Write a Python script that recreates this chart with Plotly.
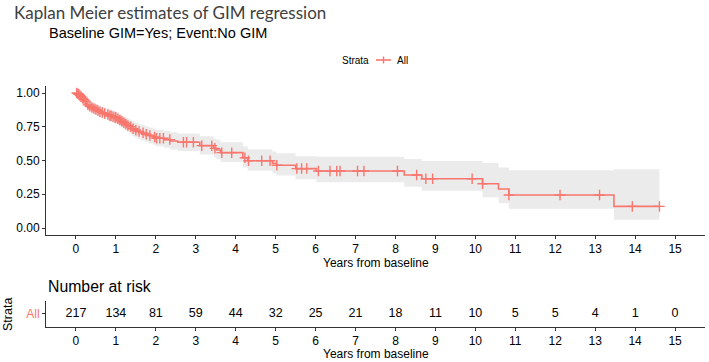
import numpy as np
import plotly.graph_objects as go

# ---------------- data ----------------
times = [0.00, 0.03, 0.06, 0.09, 0.12, 0.15, 0.18, 0.21, 0.25, 0.28, 0.32, 0.37, 0.42, 0.47,
         0.52, 0.58, 0.64, 0.70, 0.77, 0.83, 0.90, 0.96, 1.02, 1.07, 1.12, 1.17, 1.22, 1.28,
         1.34, 1.40, 1.47, 1.55, 1.63, 1.72, 1.82, 1.93, 2.00, 2.20, 2.36, 2.55, 3.10, 3.45,
         3.52, 3.62, 4.18, 4.30, 4.92, 5.02, 5.50, 6.02, 8.22, 8.66, 10.18, 10.58, 10.84, 13.47]
surv = [1.000, 0.995, 0.990, 0.982, 0.972, 0.962, 0.952, 0.940, 0.925, 0.912, 0.902, 0.893,
        0.885, 0.877, 0.870, 0.862, 0.855, 0.848, 0.840, 0.832, 0.825, 0.818, 0.810, 0.800,
        0.790, 0.780, 0.770, 0.760, 0.750, 0.735, 0.725, 0.715, 0.705, 0.695, 0.685, 0.675,
        0.665, 0.655, 0.645, 0.635, 0.610, 0.590, 0.578, 0.558, 0.520, 0.498, 0.480, 0.465,
        0.440, 0.422, 0.393, 0.365, 0.328, 0.289, 0.244, 0.160]
upper = [1.000, 1.000, 1.000, 1.000, 0.995, 0.988, 0.980, 0.970, 0.957, 0.946, 0.937, 0.929,
         0.922, 0.915, 0.909, 0.902, 0.896, 0.890, 0.883, 0.876, 0.870, 0.864, 0.857, 0.848,
         0.839, 0.830, 0.821, 0.812, 0.803, 0.790, 0.781, 0.772, 0.763, 0.754, 0.745, 0.736,
         0.727, 0.718, 0.709, 0.700, 0.680, 0.663, 0.653, 0.636, 0.603, 0.583, 0.567, 0.553,
         0.531, 0.528, 0.511, 0.496, 0.481, 0.449, 0.427, 0.435]
lower = [1.000, 0.986, 0.977, 0.965, 0.950, 0.937, 0.924, 0.910, 0.893, 0.879, 0.868, 0.858,
         0.849, 0.840, 0.832, 0.823, 0.815, 0.807, 0.798, 0.789, 0.781, 0.773, 0.764, 0.753,
         0.742, 0.731, 0.720, 0.709, 0.698, 0.682, 0.671, 0.660, 0.649, 0.638, 0.627, 0.616,
         0.605, 0.594, 0.582, 0.571, 0.545, 0.523, 0.510, 0.488, 0.448, 0.424, 0.405, 0.389,
         0.362, 0.338, 0.306, 0.276, 0.227, 0.183, 0.143, 0.062]
end_time = 14.61

censor_times = [0.02, 0.05, 0.07, 0.10, 0.13, 0.17, 0.20, 0.24, 0.30, 0.35, 0.40, 0.45, 0.50,
                0.55, 0.60, 0.66, 0.72, 0.80, 0.85, 0.88, 0.93, 0.98, 1.00, 1.05, 1.10, 1.15,
                1.20, 1.25, 1.30, 1.37, 1.43, 1.50, 1.58, 1.68, 1.76, 1.85, 1.97, 2.02, 2.10,
                2.19, 2.35, 2.69, 2.77, 2.94, 3.15, 3.40, 3.48, 3.65, 3.90, 4.23, 4.32, 4.65,
                4.86, 5.03, 5.53, 5.65, 5.78, 6.07, 6.36, 6.53, 6.61, 7.05, 7.21, 8.05, 8.53,
                8.76, 8.93, 9.92, 10.18, 10.84, 12.12, 13.11, 13.93, 14.61]

risk_times = list(range(0, 16))
risk_counts = [217, 134, 81, 59, 44, 32, 25, 21, 18, 11, 10, 5, 5, 4, 1, 0]
strata_name = "All"

# ---------------- styles ----------------
RED = "#F8766D"
BAND = "#EBEBEB"
AX = "#333333"
W, H = 709, 362
ML, MR = 46, 4


def px_x(p):
    return (p - ML) / (W - ML - MR)


def px_y(p):
    return 1 - p / H


# step function lookup for censor marks
t_arr = np.array(times)
s_arr = np.array(surv)
idx = np.searchsorted(t_arr, np.array(censor_times), side="right") - 1
censor_surv = s_arr[idx]

fig = go.Figure()

# confidence band
fig.add_trace(go.Scatter(x=times + [end_time], y=upper + [upper[-1]], mode="lines",
                         line=dict(color="rgba(0,0,0,0)", width=0, shape="hv"),
                         showlegend=False, hoverinfo="skip", xaxis="x", yaxis="y"))
fig.add_trace(go.Scatter(x=times + [end_time], y=lower + [lower[-1]], mode="lines",
                         line=dict(color="rgba(0,0,0,0)", width=0, shape="hv"),
                         fill="tonexty", fillcolor=BAND,
                         showlegend=False, hoverinfo="skip", xaxis="x", yaxis="y"))
# KM curve
fig.add_trace(go.Scatter(x=times + [end_time], y=surv + [surv[-1]], mode="lines",
                         line=dict(color=RED, width=1.6, shape="hv"),
                         showlegend=False, xaxis="x", yaxis="y"))
# censor marks
fig.add_trace(go.Scatter(x=censor_times, y=censor_surv, mode="markers",
                         marker=dict(symbol="cross-thin", size=7.5,
                                     line=dict(color=RED, width=1.4)),
                         showlegend=False, xaxis="x", yaxis="y"))

# risk table
fig.add_trace(go.Scatter(x=risk_times, y=[strata_name] * len(risk_times), mode="text",
                         text=[str(c) for c in risk_counts],
                         textfont=dict(family="Liberation Sans, Arial", size=12.5, color="black"),
                         showlegend=False, xaxis="x2", yaxis="y2"))

xr = [-0.75, 15.75]
tickfont = dict(family="Liberation Sans, Arial", size=12, color="black")

fig.update_layout(
    width=W, height=H,
    margin=dict(l=ML, r=MR, t=0, b=0),
    plot_bgcolor="white", paper_bgcolor="white",
    showlegend=False,
    xaxis=dict(domain=[0, 1], range=xr, tickmode="array", tickvals=risk_times,
               showgrid=False, zeroline=False, showline=True, linecolor=AX, linewidth=1,
               ticks="outside", ticklen=3, tickcolor=AX, tickfont=tickfont,
               anchor="y", automargin=False),
    yaxis=dict(domain=[px_y(234.75), px_y(86.25)], range=[-0.05, 1.05],
               tickvals=[0, 0.25, 0.5, 0.75, 1.0], ticktext=["0.00", "0.25", "0.50", "0.75", "1.00"],
               showgrid=False, zeroline=False, showline=True, linecolor=AX, linewidth=1,
               ticks="outside", ticklen=3, tickcolor=AX, tickfont=tickfont,
               anchor="x", automargin=False),
    xaxis2=dict(domain=[0, 1], range=xr, tickmode="array", tickvals=risk_times,
                showgrid=False, zeroline=False, showline=True, linecolor=AX, linewidth=1,
                ticks="outside", ticklen=3, tickcolor=AX, tickfont=tickfont,
                anchor="y2", automargin=False),
    yaxis2=dict(domain=[px_y(327), px_y(300.5)], type="category", range=[-0.5, 0.5],
                showgrid=False, zeroline=False, showline=True, linecolor=AX, linewidth=1,
                ticks="outside", ticklen=3, tickcolor=AX,
                tickfont=dict(family="Liberation Sans, Arial", size=12, color=RED),
                anchor="x2", automargin=False),
)

# legend (drawn by hand to match the compact ggplot key)
leg_font = dict(family="Liberation Sans, Arial", size=10, color="black")
fig.add_annotation(text="Strata", xref="paper", yref="paper", x=px_x(371), y=px_y(60),
                   xanchor="right", yanchor="middle", showarrow=False, font=leg_font)
fig.add_annotation(text=strata_name, xref="paper", yref="paper", x=px_x(395), y=px_y(60),
                   xanchor="left", yanchor="middle", showarrow=False, font=leg_font)
fig.add_shape(type="line", xref="paper", yref="paper", x0=px_x(376), x1=px_x(391),
              y0=px_y(60), y1=px_y(60), line=dict(color=RED, width=1.6))
fig.add_shape(type="line", xref="paper", yref="paper", x0=px_x(383.5), x1=px_x(383.5),
              y0=px_y(56.5), y1=px_y(63.5), line=dict(color=RED, width=1.4))

ann_font = dict(family="Liberation Sans, Arial", color="black")
fig.add_annotation(text="Kaplan Meier estimates of GIM regression", xref="paper", yref="paper",
                   x=px_x(12), y=px_y(12), xanchor="left", yanchor="middle", showarrow=False,
                   font=dict(family="Lato", size=17, color="#404040"))
fig.add_annotation(text="Baseline GIM=Yes; Event:No GIM", xref="paper", yref="paper",
                   x=px_x(47), y=px_y(33), xanchor="left", yanchor="middle", showarrow=False,
                   font=dict(size=14.5, **ann_font))
fig.add_annotation(text="Years from baseline", xref="paper", yref="paper",
                   x=0.5, y=px_y(262.5), xanchor="center", yanchor="middle", showarrow=False,
                   font=dict(size=12, **ann_font))
fig.add_annotation(text="Number at risk", xref="paper", yref="paper",
                   x=px_x(46), y=px_y(286), xanchor="left", yanchor="middle", showarrow=False,
                   font=dict(size=15.8, **ann_font))
fig.add_annotation(text="Strata", xref="paper", yref="paper", textangle=-90,
                   x=px_x(8), y=px_y(315), xanchor="center", yanchor="middle", showarrow=False,
                   font=dict(size=12.5, **ann_font))
fig.add_annotation(text="Years from baseline", xref="paper", yref="paper",
                   x=0.5, y=px_y(354), xanchor="center", yanchor="middle", showarrow=False,
                   font=dict(size=12, **ann_font))

fig.write_html("out.html", config={"displayModeBar": False},
               post_script="document.body.style.margin='0px';")
